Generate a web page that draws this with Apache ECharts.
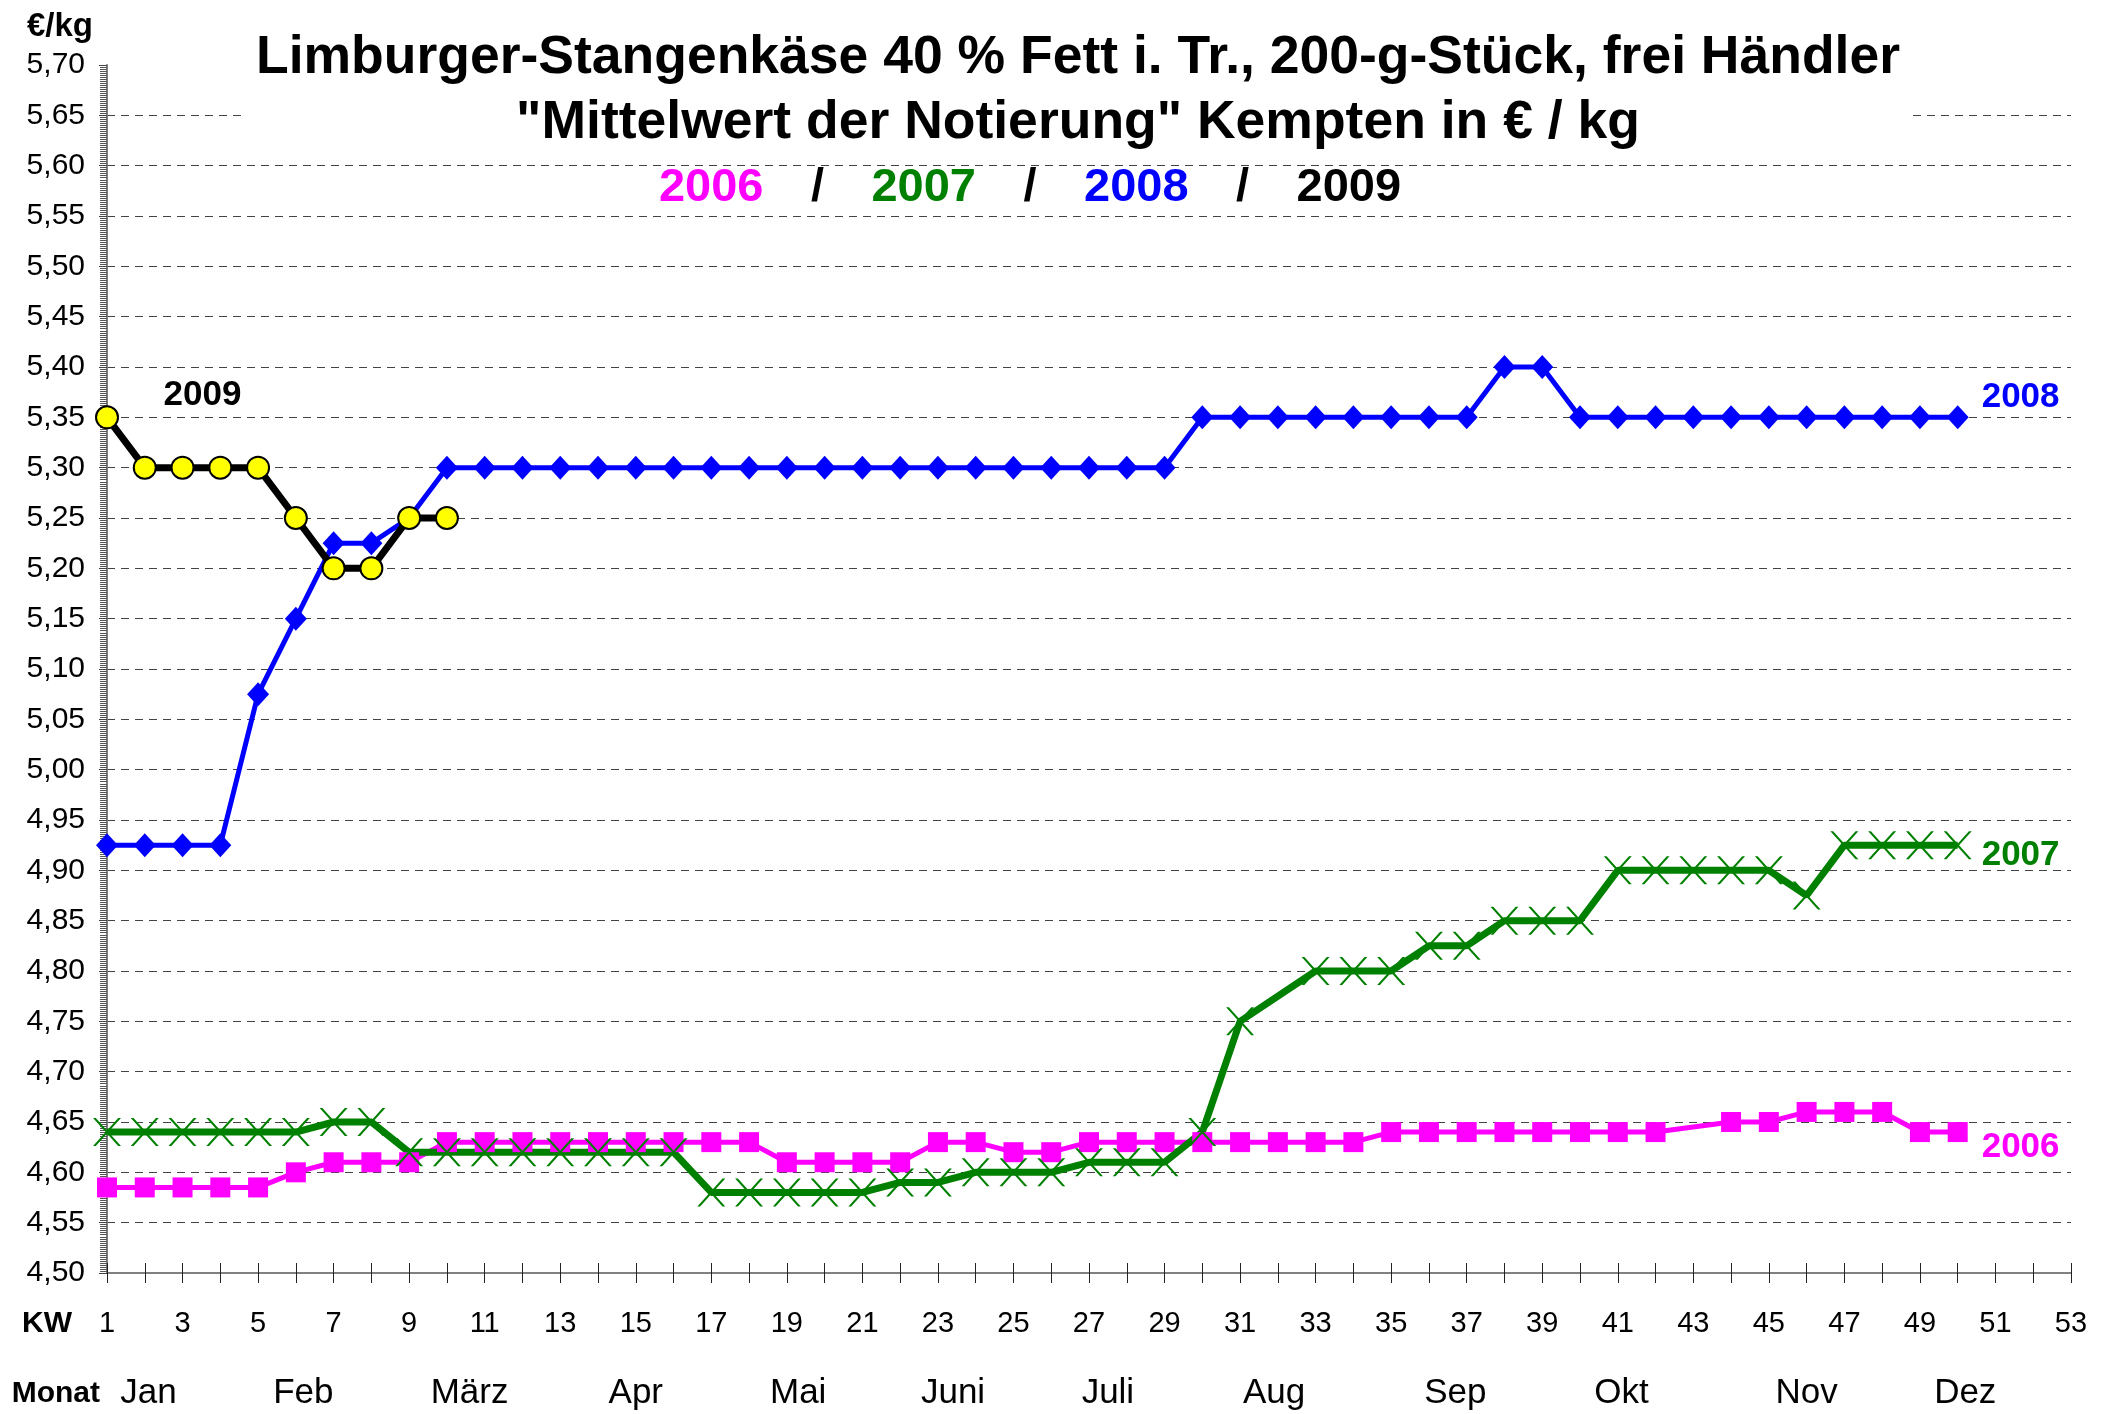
<!DOCTYPE html>
<html>
<head>
<meta charset="utf-8">
<title>Limburger-Stangenkäse Kempten</title>
<script src="https://cdn.jsdelivr.net/npm/echarts@6/dist/echarts.min.js"></script>
<style>
  html, body { margin: 0; padding: 0; background: #fff; }
  #chart { width: 2116px; height: 1414px; }
</style>
</head>
<body>
<div id="chart"></div>
<script>
  // Kalenderwochen 1..53
  const weeks = ['1', '2', '3', '4', '5', '6', '7', '8', '9', '10', '11', '12', '13', '14', '15', '16', '17', '18',
    '19', '20', '21', '22', '23', '24', '25', '26', '27', '28', '29', '30', '31', '32', '33', '34', '35', '36',
    '37', '38', '39', '40', '41', '42', '43', '44', '45', '46', '47', '48', '49', '50', '51', '52', '53']

  // month names and where they sit on the KW scale
  const monthNames = ['Jan', 'Feb', 'März', 'Apr', 'Mai', 'Juni', 'Juli', 'Aug', 'Sep', 'Okt', 'Nov', 'Dez']
  const monthWeeks = [2.1, 6.2, 10.6, 15, 19.3, 23.4, 27.5, 31.9, 36.7, 41.1, 46, 50.2]

  const price2006 = [4.585, 4.585, 4.585, 4.585, 4.585, 4.60, 4.61, 4.61, 4.61, 4.63,
    4.63, 4.63, 4.63, 4.63, 4.63, 4.63, 4.63, 4.63, 4.61, 4.61,
    4.61, 4.61, 4.63, 4.63, 4.62, 4.62, 4.63, 4.63, 4.63, 4.63,
    4.63, 4.63, 4.63, 4.63, 4.64, 4.64, 4.64, 4.64, 4.64, 4.64,
    4.64, 4.64, null, 4.65, 4.65, 4.66, 4.66, 4.66, 4.64, 4.64]

  const price2007 = [4.64, 4.64, 4.64, 4.64, 4.64, 4.64, 4.65, 4.65, 4.62, 4.62,
    4.62, 4.62, 4.62, 4.62, 4.62, 4.62, 4.58, 4.58, 4.58, 4.58,
    4.58, 4.59, 4.59, 4.60, 4.60, 4.60, 4.61, 4.61, 4.61, 4.64,
    4.75, null, 4.80, 4.80, 4.80, 4.825, 4.825, 4.85, 4.85, 4.85,
    4.90, 4.90, 4.90, 4.90, 4.90, 4.875, 4.925, 4.925, 4.925, 4.925]

  const price2008 = [4.925, 4.925, 4.925, 4.925, 5.075, 5.15, 5.225, 5.225, 5.25, 5.30,
    5.30, 5.30, 5.30, 5.30, 5.30, 5.30, 5.30, 5.30, 5.30, 5.30,
    5.30, 5.30, 5.30, 5.30, 5.30, 5.30, 5.30, 5.30, 5.30, 5.35,
    5.35, 5.35, 5.35, 5.35, 5.35, 5.35, 5.35, 5.40, 5.40, 5.35,
    5.35, 5.35, 5.35, 5.35, 5.35, 5.35, 5.35, 5.35, 5.35, 5.35]

  const price2009 = [5.35, 5.30, 5.30, 5.30, 5.30, 5.25, 5.20, 5.20, 5.25, 5.25]

  const yMin = 4.5
  const yMax = 5.7
  const yStep = 0.05

  const colors = { y2006: '#ff00ff', y2007: '#008000', y2008: '#0000ff', y2009: '#000000' }
  const font = "'Liberation Sans', Arial, sans-serif"

  // thin "X" marker, drawn as two filled bars
  const crossSymbol = 'path://M0,0L2,0L20,20L18,20Z M18,0L20,0L2,20L0,20Z'

  const seriesLabel = (color) => ({
    color: color,
    fontFamily: font,
    fontSize: 35,
    fontWeight: 'bold'
  })

  // the "2009" tag sits above the third point of the 2009 line
  const data2009 = price2009.map((v, i) => i === 2 ? {
    value: v,
    label: Object.assign({ show: true, formatter: '2009', position: 'inside', offset: [20, -72] }, seriesLabel(colors.y2009))
  } : v)

  const chart = echarts.init(document.getElementById('chart'))

  const option = {
    animation: false,
    backgroundColor: '#fff',
    textStyle: { fontFamily: font },
    title: [{
      text: 'Limburger-Stangenkäse 40 % Fett i. Tr., 200-g-Stück, frei Händler\n"Mittelwert der Notierung" Kempten in € / kg',
      left: 1068,
      top: 20,
      textAlign: 'center',
      backgroundColor: '#fff',
      padding: [6, 10],
      textStyle: { fontFamily: font, fontSize: 53.5, fontWeight: 'bold', lineHeight: 65, color: '#000' }
    }, {
      text: '{a|2006}{s|/}{b|2007}{s|/}{c|2008}{s|/}{d|2009}',
      left: 1030,
      top: 165,
      textAlign: 'center',
      padding: 0,
      textStyle: {
        fontFamily: font,
        fontSize: 47,
        fontWeight: 'bold',
        rich: {
          a: { color: colors.y2006, fontSize: 47, fontWeight: 'bold', fontFamily: font },
          b: { color: colors.y2007, fontSize: 47, fontWeight: 'bold', fontFamily: font },
          c: { color: colors.y2008, fontSize: 47, fontWeight: 'bold', fontFamily: font },
          d: { color: colors.y2009, fontSize: 47, fontWeight: 'bold', fontFamily: font },
          s: { color: '#000', fontSize: 47, fontWeight: 'bold', fontFamily: font, width: 108, align: 'center' }
        }
      }
    }],
    grid: { left: 107, right: 45, top: 65, bottom: 141, outerBoundsMode: 'none', containLabel: false },
    xAxis: [{
      type: 'category',
      data: weeks,
      boundaryGap: false,
      position: 'bottom',
      name: '\nKW',
      nameLocation: 'start',
      nameGap: 35,
      nameMoveOverlap: false,
      nameTextStyle: { fontFamily: font, fontSize: 30, fontWeight: 'bold', color: '#000', lineHeight: 102 },
      axisLine: { lineStyle: { color: '#808080', width: 2 } },
      axisTick: { interval: 0, length: 10, lineStyle: { color: '#222' } },
      axisLabel: { interval: 1, margin: 36, fontSize: 29, color: '#000', fontFamily: font },
      splitLine: { show: false }
    }, {
      // months row
      type: 'value',
      min: 1,
      max: 53,
      position: 'bottom',
      offset: 90,
      name: '\nMonat',
      nameLocation: 'start',
      nameGap: 7,
      nameMoveOverlap: false,
      nameTextStyle: { fontFamily: font, fontSize: 30, fontWeight: 'bold', color: '#000', lineHeight: 62 },
      axisLine: { show: false },
      axisTick: { show: false },
      splitLine: { show: false },
      axisLabel: {
        customValues: monthWeeks,
        formatter: (v) => monthNames[monthWeeks.indexOf(v)],
        margin: 13,
        fontSize: 35,
        color: '#000',
        fontFamily: font
      }
    }, {
      // upper half of the crossing KW ticks
      type: 'category',
      data: weeks,
      boundaryGap: false,
      position: 'bottom',
      axisLine: { show: false },
      axisTick: { interval: 0, inside: true, length: 10, lineStyle: { color: '#222' } },
      axisLabel: { show: false },
      splitLine: { show: false }
    }],
    yAxis: {
      type: 'value',
      min: yMin,
      max: yMax,
      interval: yStep,
      name: '€/kg',
      nameLocation: 'end',
      nameGap: 22,
      nameTextStyle: { fontFamily: font, fontSize: 33, fontWeight: 'bold', color: '#000', align: 'right', padding: [0, 14, 0, 0] },
      axisLine: { show: true, lineStyle: { color: '#808080', width: 2 } },
      axisTick: { show: true, length: 8, lineStyle: { color: '#444' } },
      minorTick: { show: true, splitNumber: 25, length: 7, lineStyle: { color: '#555', width: 1 } },
      axisLabel: {
        margin: 22,
        fontSize: 30,
        color: '#000',
        fontFamily: font,
        formatter: (v) => v.toFixed(2).replace('.', ',')
      },
      splitLine: {
        showMaxLine: false,
        lineStyle: { type: [8, 6], color: '#444', width: 1 }
      }
    },
    series: [{
      name: '2006',
      type: 'line',
      data: price2006,
      connectNulls: true,
      showAllSymbol: true,
      symbol: 'rect',
      symbolSize: 20,
      lineStyle: { color: colors.y2006, width: 5 },
      itemStyle: { color: colors.y2006 },
      endLabel: Object.assign({ show: true, formatter: '2006', distance: 0, offset: [24, 15] }, seriesLabel(colors.y2006))
    }, {
      name: '2007',
      type: 'line',
      data: price2007,
      connectNulls: true,
      showAllSymbol: true,
      symbol: crossSymbol,
      symbolSize: 28,
      lineStyle: { color: colors.y2007, width: 7 },
      itemStyle: { color: colors.y2007 },
      endLabel: Object.assign({ show: true, formatter: '2007', distance: 0, offset: [24, 10] }, seriesLabel(colors.y2007))
    }, {
      name: '2008',
      type: 'line',
      data: price2008,
      showAllSymbol: true,
      symbol: 'diamond',
      symbolSize: [22, 24],
      lineStyle: { color: colors.y2008, width: 5 },
      itemStyle: { color: colors.y2008 },
      endLabel: Object.assign({ show: true, formatter: '2008', distance: 0, offset: [24, -20] }, seriesLabel(colors.y2008))
    }, {
      name: '2009',
      type: 'line',
      data: data2009,
      showAllSymbol: true,
      symbol: 'circle',
      symbolSize: 22,
      lineStyle: { color: colors.y2009, width: 7 },
      itemStyle: { color: '#ffff00', borderColor: '#000', borderWidth: 2 }
    }]
  }

  chart.setOption(option)
</script>
</body>
</html>
